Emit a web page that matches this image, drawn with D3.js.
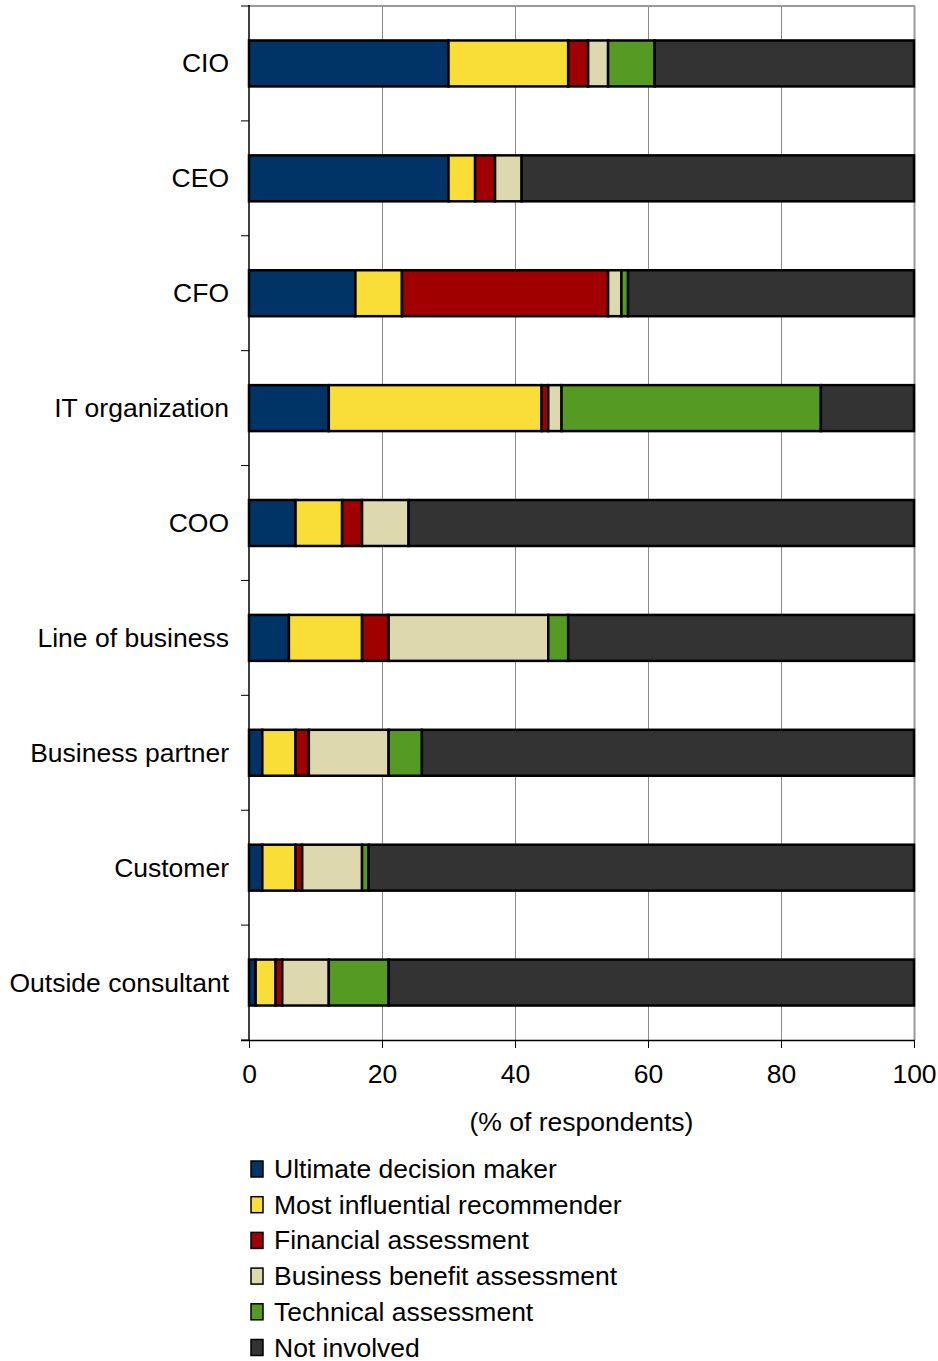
<!DOCTYPE html>
<html>
<head>
<meta charset="utf-8">
<script src="https://cdn.jsdelivr.net/npm/d3@7"></script>
<style>
  html, body { margin: 0; padding: 0; background: #fff; }
  svg { display: block; font-family: "Liberation Sans", Arial, sans-serif; }
</style>
</head>
<body>
<svg id="chart" width="938" height="1361"></svg>
<script>
// Roles asked about, top to bottom
const categories = ["CIO", "CEO", "CFO", "IT organization", "COO",
  "Line of business", "Business partner", "Customer", "Outside consultant"];

// Involvement types (stack order, left to right)
const seriesNames = ["Ultimate decision maker", "Most influential recommender",
  "Financial assessment", "Business benefit assessment",
  "Technical assessment", "Not involved"];

// % of respondents per role, one array per involvement type
const ultimateDecisionMaker   = [30, 30, 16, 12, 7, 6, 2, 2, 1];
const influentialRecommender  = [18, 4, 7, 32, 7, 11, 5, 5, 3];
const financialAssessment     = [3, 3, 31, 1, 3, 4, 2, 1, 1];
const businessBenefit         = [3, 4, 2, 2, 7, 24, 12, 9, 7];
const technicalAssessment     = [7, 0, 1, 39, 0, 3, 5, 1, 9];
const notInvolved             = [39, 59, 43, 14, 76, 52, 74, 82, 79];

const xTicks = [0, 20, 40, 60, 80, 100];
const axisTitle = "(% of respondents)";

const colors = ["#003366", "#F8DE36", "#A00000", "#DDD8AE", "#559A22", "#333333"];

const seriesValues = [ultimateDecisionMaker, influentialRecommender,
  financialAssessment, businessBenefit, technicalAssessment, notInvolved];

const rows = categories.map((c, i) => {
  const r = { category: c };
  seriesNames.forEach((s, j) => { r[s] = seriesValues[j][i]; });
  return r;
});

const svg = d3.select("#chart");
const plotLeft = 249, plotRight = 914, plotTop = 6, plotBottom = 1040;
const fontSize = 26.5;

const x = d3.scaleLinear().domain([0, 100]).range([plotLeft, plotRight]);
const y = d3.scaleBand().domain(categories).range([plotTop, plotBottom])
  .paddingInner(0.6).paddingOuter(0.3);

// gridlines
svg.append("g").selectAll("line").data(xTicks.filter(t => t > 0 && t < 100)).join("line")
  .attr("x1", d => x(d) + 0.5).attr("x2", d => x(d) + 0.5)
  .attr("y1", plotTop).attr("y2", plotBottom)
  .attr("stroke", "#8a8a8a").attr("stroke-width", 1);

// plot frame (top and right)
svg.append("line").attr("x1", plotLeft).attr("x2", plotRight + 1).attr("y1", plotTop).attr("y2", plotTop)
  .attr("stroke", "#9a9a9a").attr("stroke-width", 2);
svg.append("line").attr("x1", plotRight + 0.5).attr("x2", plotRight + 0.5).attr("y1", plotTop).attr("y2", plotBottom)
  .attr("stroke", "#9a9a9a").attr("stroke-width", 2);

// stacked bars
const stacked = d3.stack().keys(seriesNames)(rows);
svg.append("g").selectAll("g").data(stacked).join("g")
  .attr("fill", (d, i) => colors[i])
  .selectAll("rect").data(d => d.filter(p => p[1] - p[0] > 0)).join("rect")
  .attr("x", d => x(d[0]))
  .attr("width", d => x(d[1]) - x(d[0]))
  .attr("y", d => y(d.data.category))
  .attr("height", y.bandwidth())
  .attr("stroke", "#000").attr("stroke-width", 2.5);

// y axis: line plus ticks on category boundaries
svg.append("line").attr("x1", plotLeft).attr("x2", plotLeft).attr("y1", plotTop - 1).attr("y2", plotBottom)
  .attr("stroke", "#000").attr("stroke-width", 1.5);
const rowStep = (plotBottom - plotTop) / categories.length;
svg.append("g").selectAll("line").data(d3.range(categories.length + 1)).join("line")
  .attr("x1", plotLeft - 8).attr("x2", plotLeft)
  .attr("y1", i => plotTop + i * rowStep)
  .attr("y2", i => plotTop + i * rowStep)
  .attr("stroke", "#000").attr("stroke-width", 1);

svg.append("g").selectAll("text").data(categories).join("text")
  .attr("x", plotLeft - 20)
  .attr("y", d => y(d) + y.bandwidth() / 2)
  .attr("text-anchor", "end").attr("dominant-baseline", "central")
  .attr("font-size", fontSize).attr("fill", "#000")
  .text(d => d);

// x axis
const xAxis = d3.axisBottom(x).tickValues(xTicks).tickSize(8).tickPadding(16);
const gx = svg.append("g").attr("transform", `translate(0,${plotBottom})`).call(xAxis);
gx.select(".domain").attr("stroke", "#000").attr("stroke-width", 1.5)
  .attr("d", `M${plotLeft - 8},0.5H${plotRight + 1}`);
gx.selectAll(".tick line").attr("stroke", "#000");
gx.selectAll(".tick text").attr("font-size", fontSize).attr("fill", "#000")
  .attr("font-family", "'Liberation Sans', Arial, sans-serif");

svg.append("text").attr("x", (plotLeft + plotRight) / 2).attr("y", 1122)
  .attr("text-anchor", "middle").attr("dominant-baseline", "central")
  .attr("font-size", fontSize).attr("fill", "#000").text(axisTitle);

// legend
const lg = svg.append("g").selectAll("g").data(seriesNames).join("g")
  .attr("transform", (d, i) => `translate(251,${1169 + i * 35.7})`);
lg.append("rect").attr("x", 0).attr("y", -8).attr("width", 12).attr("height", 16)
  .attr("fill", (d, i) => colors[i]).attr("stroke", "#000").attr("stroke-width", 1.5);
lg.append("text").attr("x", 23).attr("y", 0).attr("dominant-baseline", "central")
  .attr("font-size", fontSize).attr("fill", "#000").text(d => d);
</script>
</body>
</html>
